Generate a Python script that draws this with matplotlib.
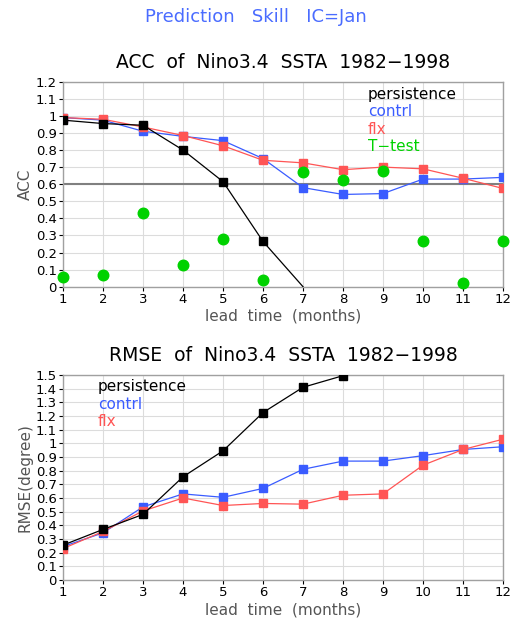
import numpy as np
import matplotlib
matplotlib.use("Agg")
import matplotlib.pyplot as plt

lead = np.arange(1, 13)

# ACC
acc_persist = [0.975, 0.955, 0.945, 0.80, 0.615, 0.265, 0.0, np.nan, np.nan, np.nan, np.nan, np.nan]
acc_contrl = [0.99, 0.975, 0.91, 0.88, 0.855, 0.75, 0.58, 0.54, 0.545, 0.63, 0.63, 0.64]
acc_flx = [0.99, 0.98, 0.935, 0.885, 0.825, 0.74, 0.725, 0.685, 0.70, 0.69, 0.635, 0.575]
acc_ttest = [0.055, 0.07, 0.43, 0.125, 0.28, 0.04, 0.67, 0.625, 0.68, 0.27, 0.02, 0.27]
acc_sig = 0.6

# RMSE
rmse_persist = [0.255, 0.37, 0.48, 0.755, 0.945, 1.225, 1.41, 1.495, np.nan, np.nan, np.nan, np.nan]
rmse_contrl = [0.245, 0.345, 0.535, 0.63, 0.605, 0.67, 0.81, 0.87, 0.87, 0.91, 0.955, 0.975]
rmse_flx = [0.23, 0.355, 0.505, 0.60, 0.545, 0.56, 0.555, 0.62, 0.63, 0.84, 0.955, 1.03]

BLUE = "#3a5cff"
RED = "#ff5555"
GREEN = "#00d200"
GRID = "#dcdcdc"
FRAME = "#a0a0a0"

plt.rcParams["font.family"] = "DejaVu Sans"

fig = plt.figure(figsize=(5.12, 6.18), dpi=100)
fig.text(0.5, 1 - 17 / 618, "Prediction   Skill   IC=Jan", color="#4a6cff",
         ha="center", va="center", fontsize=13)


def style_axes(ax, ymax, ystep, ylabel):
    ticks = np.round(np.arange(0, ymax + 1e-6, ystep), 1)
    ax.set_xlim(1, 12)
    ax.set_ylim(0, ymax)
    ax.set_xticks(lead)
    ax.set_yticks(ticks)
    ax.set_yticklabels(["%g" % v for v in ticks])
    ax.grid(True, color=GRID, lw=0.8)
    ax.set_axisbelow(True)
    for s in ax.spines.values():
        s.set_color(FRAME)
        s.set_linewidth(1.0)
    ax.tick_params(direction="out", length=3, width=0.8, color="black",
                   labelsize=9.5, pad=1.5)
    ax.set_xlabel("lead  time  (months)", fontsize=11, color="#555555", labelpad=2)
    ax.set_ylabel(ylabel, fontsize=11, color="#555555", labelpad=2)


def series(ax, y, color, lw=0.9):
    y = np.asarray(y, dtype=float)
    # GrADS draws no marker for a point sitting on the axis edge
    shown = [i for i in range(len(y)) if np.isfinite(y[i]) and y[i] > 0]
    ax.plot(lead, y, color=color, lw=lw, marker="s", ms=5.2, mec=color,
            mfc=color, markevery=shown, zorder=3)


# top panel
ax1 = fig.add_axes([63 / 512, 1 - 286.7 / 618, 440 / 512, 205 / 618])
style_axes(ax1, 1.2, 0.1, "ACC")
ax1.axhline(acc_sig, color="#808080", lw=1.5, zorder=2)
series(ax1, acc_contrl, BLUE)
series(ax1, acc_flx, RED)
series(ax1, acc_persist, "black")
ax1.plot(lead, acc_ttest, "o", color=GREEN, ms=7.6, mec=GREEN, clip_on=False, zorder=4)
ax1.set_title("ACC  of  Nino3.4  SSTA  1982\u22121998", fontsize=13.5, pad=10)
leg_x = 368 / 512
for i, (lab, c) in enumerate([("persistence", "black"), ("contrl", BLUE),
                              ("flx", RED), ("T\u2212test", GREEN)]):
    fig.text(leg_x, 1 - (94 + 17.5 * i) / 618, lab, color=c, fontsize=11,
             ha="left", va="center")

# bottom panel
ax2 = fig.add_axes([63 / 512, 1 - 580 / 618, 440 / 512, 205 / 618])
style_axes(ax2, 1.5, 0.1, "RMSE(degree)")
series(ax2, rmse_contrl, BLUE)
series(ax2, rmse_flx, RED)
series(ax2, rmse_persist, "black")
ax2.set_title("RMSE  of  Nino3.4  SSTA  1982\u22121998", fontsize=13.5, pad=10)
leg_x = 98 / 512
for i, (lab, c) in enumerate([("persistence", "black"), ("contrl", BLUE), ("flx", RED)]):
    fig.text(leg_x, 1 - (387 + 17.5 * i) / 618, lab, color=c, fontsize=11,
             ha="left", va="center")

fig.savefig("out.png", dpi=100)
